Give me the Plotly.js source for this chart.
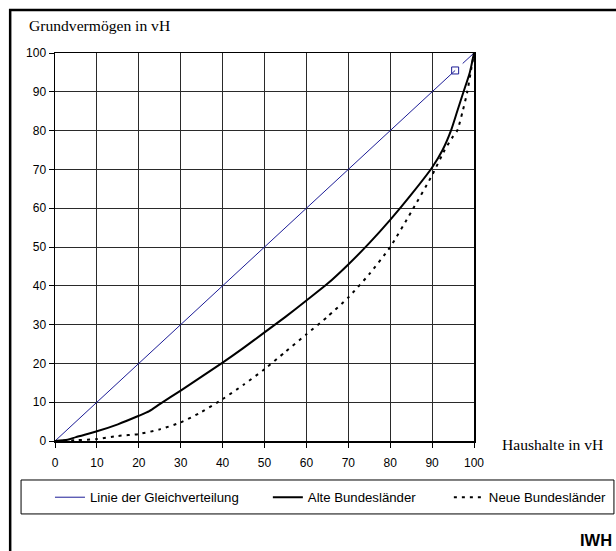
<!DOCTYPE html>
<html>
<head>
<meta charset="utf-8">
<script src="https://cdn.plot.ly/plotly-3.0.1.min.js"></script>
<style>
html,body{margin:0;padding:0;background:#fff;}
#chart{width:616px;height:551px;}
</style>
</head>
<body>
<div id="chart"></div>
<script>
// Tick values
const tickVals = [0, 10, 20, 30, 40, 50, 60, 70, 80, 90, 100];

// Linie der Gleichverteilung (with the small gap seen in the original)
const eqX = [0, 95.5, null, 97.3, 100];
const eqY = [0, 95.5, null, 97.3, 100];
// small square marker on the line
const markX = [95.5];
const markY = [95.5];

// Alte Bundesländer
const alteX = [0, 3, 5, 10, 15, 20, 22.5, 25, 30, 35, 40, 45, 50, 55, 60, 65, 70, 75, 80, 85, 90, 92.5, 94.5, 96, 97.5, 99, 100];
const alteY = [0, 0.3, 1, 2.5, 4.3, 6.5, 7.7, 9.5, 13, 16.6, 20.2, 24, 28, 32, 36.2, 40.5, 45.5, 51, 57, 63.5, 70.5, 75, 80, 85, 90, 95, 100];

// Neue Bundesländer
const neueX = [0, 5, 10, 15, 20, 25, 30, 35, 40, 45, 50, 55, 60, 65, 70, 75, 80, 85, 90, 93, 95, 96, 97.3, 98.4, 99.2, 100];
const neueY = [0, 0.2, 0.5, 1.3, 1.8, 3, 4.8, 7.5, 10.8, 14.5, 18.5, 23, 27.5, 32, 37, 43, 50, 59, 68.5, 75, 78.5, 80, 85, 90, 95, 100];

const names = ["Linie der Gleichverteilung", "Alte Bundesländer", "Neue Bundesländer"];

const blue = '#1c1c96';
const traces = [
  {x: eqX, y: eqY, name: names[0], type: 'scatter', mode: 'lines', connectgaps: false,
   legend: 'legend', line: {color: blue, width: 1}},
  {x: markX, y: markY, type: 'scatter', mode: 'markers', showlegend: false,
   marker: {symbol: 'square-open', size: 7, color: blue, line: {width: 1, color: blue}}},
  {x: alteX, y: alteY, name: names[1], type: 'scatter', mode: 'lines', legend: 'legend2',
   line: {color: '#000', width: 2, shape: 'spline', smoothing: 0.6}},
  {x: neueX, y: neueY, name: names[2], type: 'scatter', mode: 'lines', legend: 'legend3',
   line: {color: '#000', width: 2, dash: '3px,5px', shape: 'spline', smoothing: 0.6}}
];

const fam = '"Liberation Sans", Arial, sans-serif';
const serif = '"Liberation Serif", "Times New Roman", serif';

function leg(x) {
  return {orientation: 'h', x: x, xanchor: 'left', y: -0.106, yanchor: 'top',
          borderwidth: 0, bgcolor: 'rgba(0,0,0,0)', font: {family: fam, size: 13.2, color: '#000'}};
}

const layout = {
  width: 616, height: 551,
  margin: {l: 55, r: 142, t: 53, b: 110, autoexpand: false},
  paper_bgcolor: '#fff', plot_bgcolor: '#fff',
  font: {family: fam, size: 12, color: '#000'},
  showlegend: true,
  legend: leg(-0.012),
  legend2: leg(0.508),
  legend3: leg(0.940),
  xaxis: {range: [0, 100], tickvals: tickVals, ticktext: tickVals.map(String),
          showgrid: true, gridcolor: '#2a2a2a', gridwidth: 1, zeroline: false,
          showline: true, linecolor: '#000', linewidth: 1.5, mirror: true,
          ticks: 'outside', ticklen: 5, tickcolor: '#000', tickwidth: 1, ticklabelstandoff: 5,
          fixedrange: true, automargin: false},
  yaxis: {range: [0, 100], tickvals: tickVals, ticktext: tickVals.map(String),
          showgrid: true, gridcolor: '#2a2a2a', gridwidth: 1, zeroline: false,
          showline: true, linecolor: '#000', linewidth: 1.5, mirror: true,
          ticks: 'outside', ticklen: 5, tickcolor: '#000', tickwidth: 1, fixedrange: true,
          automargin: false},
  shapes: [
    {type: 'rect', xref: 'paper', yref: 'paper', x0: -0.107, x1: 1.5, y0: -0.6, y1: 1.111,
     line: {color: '#000', width: 2.5}, fillcolor: 'rgba(0,0,0,0)', layer: 'below'},
    {type: 'rect', xref: 'paper', yref: 'paper', x0: -0.081, x1: 1.334, y0: -0.1005, y1: -0.188,
     line: {color: '#000', width: 1}, fillcolor: 'rgba(0,0,0,0)', layer: 'below'}
  ],
  annotations: [
    {text: 'Grundvermögen in vH', xref: 'paper', yref: 'paper', x: -0.0668, y: 1.0696,
     xanchor: 'left', yanchor: 'middle', showarrow: false, font: {family: serif, size: 15.6, color: '#000'}},
    {text: 'Haushalte in vH', xref: 'paper', yref: 'paper', x: 1.062, y: -0.0103,
     xanchor: 'left', yanchor: 'middle', showarrow: false, font: {family: serif, size: 15.6, color: '#000'}},
    {text: '<b>IWH</b>', xref: 'paper', yref: 'paper', x: 1.248, y: -0.255,
     xanchor: 'left', yanchor: 'middle', showarrow: false, font: {family: fam, size: 16.5, color: '#000'}}
  ]
};

Plotly.newPlot('chart', traces, layout, {displayModeBar: false, staticPlot: true});
</script>
</body>
</html>
